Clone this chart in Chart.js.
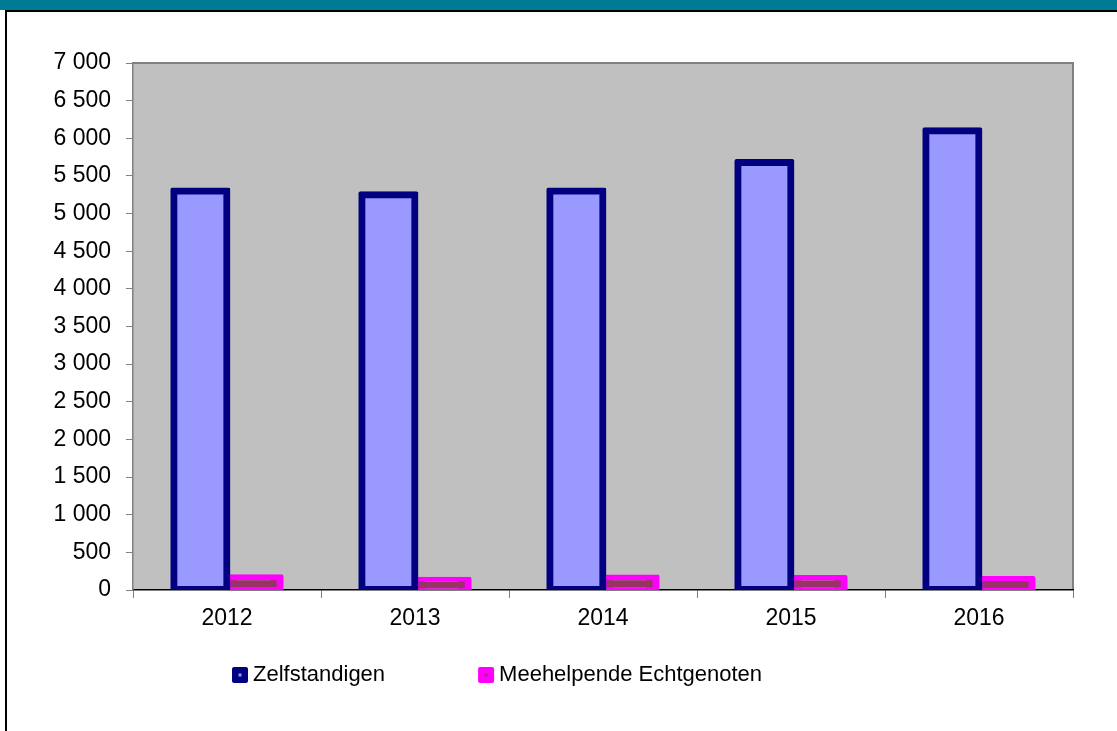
<!DOCTYPE html>
<html>
<head>
<meta charset="utf-8">
<script src="https://cdn.jsdelivr.net/npm/chart.js@4.4.0/dist/chart.umd.min.js"></script>
<style>
  html, body { margin: 0; padding: 0; background: #fff; }
  #wrap { position: relative; width: 1117px; height: 731px; overflow: hidden; }
  #band { position: absolute; left: 0; top: 0; width: 1117px; height: 10px; background: #007B93; }
  #hline { position: absolute; left: 5px; top: 10px; width: 1112px; height: 2px; background: #000; }
  #vline { position: absolute; left: 5px; top: 10px; width: 2px; height: 721px; background: #000; }
  canvas { position: absolute; left: 0; top: 0; }
</style>
</head>
<body>
<div id="wrap">
  <div id="band"></div>
  <div id="hline"></div>
  <div id="vline"></div>
  <canvas id="c" width="1117" height="731"></canvas>
</div>
<script>
const categories = ['2012', '2013', '2014', '2015', '2016'];
const zelfstandigen = [5300, 5250, 5300, 5680, 6100];
const meehelpende = [165, 130, 160, 155, 140];
const seriesNames = ['Zelfstandigen', 'Meehelpende Echtgenoten'];
const yMin = 0, yMax = 7000, yStep = 500;

const FONT = 'Liberation Sans, Arial, sans-serif';

function fmt(v) {
  return String(v).replace(/\B(?=(\d{3})+(?!\d))/g, ' ');
}

const plotBg = {
  id: 'plotBg',
  beforeDraw(chart) {
    const {ctx, chartArea: a} = chart;
    ctx.save();
    ctx.fillStyle = '#C0C0C0';
    ctx.fillRect(a.left, a.top, a.right - a.left, a.bottom - a.top);
    ctx.strokeStyle = '#808080';
    ctx.lineWidth = 2;
    ctx.beginPath();
    ctx.moveTo(a.left, a.top);
    ctx.lineTo(a.right, a.top);
    ctx.lineTo(a.right, a.bottom);
    ctx.stroke();
    ctx.restore();
  }
};

const customLegend = {
  id: 'customLegend',
  afterDraw(chart) {
    const ctx = chart.ctx;
    ctx.save();
    ctx.font = '22px ' + FONT;
    ctx.textBaseline = 'middle';
    ctx.textAlign = 'left';
    let x = 232;
    const yTop = 667, size = 16, midY = 675;
    chart.data.datasets.forEach((ds, i) => {
      ctx.fillStyle = ds.borderColor;
      ctx.beginPath();
      ctx.roundRect(x, yTop, size, size, 2);
      ctx.fill();
      ctx.fillStyle = ds.backgroundColor;
      ctx.fillRect(x + size / 2 - 1.5, yTop + size / 2 - 1.5, 3, 3);
      ctx.fillStyle = '#000';
      const tx = x + size + 5;
      ctx.fillText(ds.label, tx, midY);
      x = tx + ctx.measureText(ds.label).width + 93;
    });
    ctx.restore();
  }
};

new Chart(document.getElementById('c'), {
  type: 'bar',
  data: {
    labels: categories,
    datasets: [
      {
        label: seriesNames[0],
        data: zelfstandigen,
        backgroundColor: '#9999FF',
        borderColor: '#000080',
        borderWidth: 7,
        borderSkipped: false,
        borderRadius: 2,
        inflateAmount: 3.4,
        categoryPercentage: 0.567,
        barPercentage: 1
      },
      {
        label: seriesNames[1],
        data: meehelpende,
        backgroundColor: '#993366',
        borderColor: '#FF00FF',
        borderWidth: 7,
        borderSkipped: false,
        borderRadius: 2,
        inflateAmount: 3.4,
        categoryPercentage: 0.567,
        barPercentage: 1
      }
    ]
  },
  options: {
    responsive: false,
    animation: false,
    devicePixelRatio: 1,
    layout: { padding: { top: 63, right: 44, left: 0, bottom: 0 } },
    plugins: {
      legend: { display: false },
      tooltip: { enabled: false },
      title: { display: false }
    },
    scales: {
      x: {
        z: 1,
        grid: { display: true, drawOnChartArea: false, drawTicks: true, tickLength: 8, color: '#808080', lineWidth: 1, offset: true },
        border: { display: true, color: '#000000', width: 1.5 },
        ticks: { color: '#000', font: { family: FONT, size: 23 }, padding: 7, maxRotation: 0 },
        afterFit(s) { s.height = 141; }
      },
      y: {
        min: yMin,
        max: yMax,
        grid: { display: true, drawOnChartArea: false, drawTicks: true, tickLength: 7, color: '#808080', lineWidth: 1 },
        border: { display: true, color: '#808080', width: 1.5 },
        ticks: {
          stepSize: yStep,
          color: '#000',
          font: { family: FONT, size: 23 },
          padding: 15,
          callback: (v) => fmt(v)
        },
        afterFit(s) { s.width = 133; }
      }
    }
  },
  plugins: [plotBg, customLegend]
});
</script>
</body>
</html>
